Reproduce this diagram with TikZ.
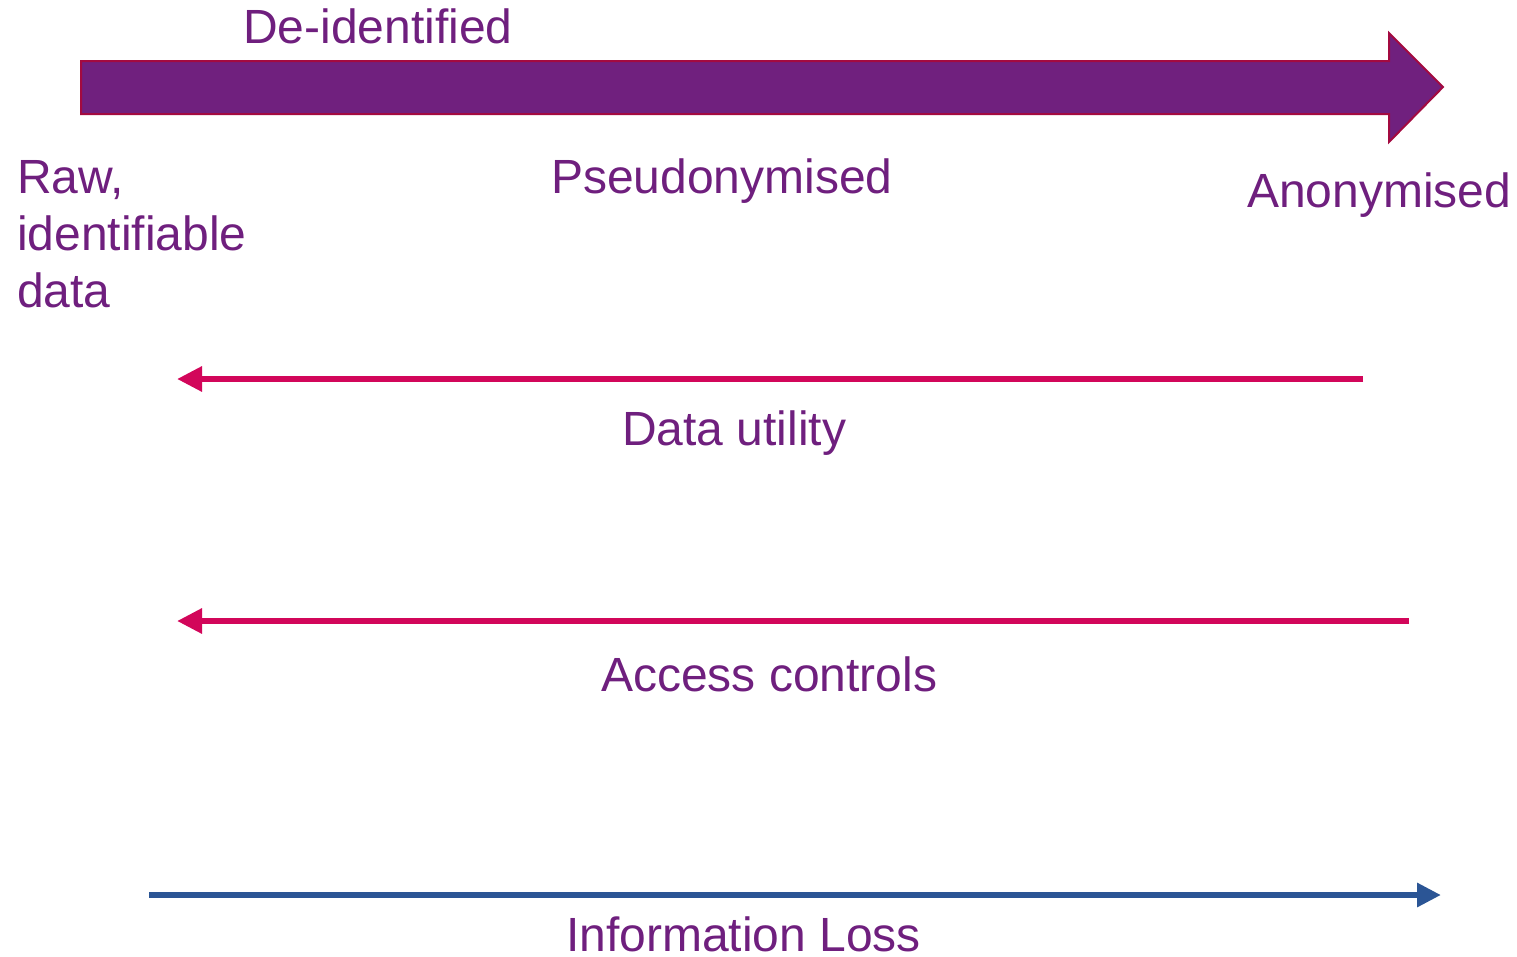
\documentclass[tikz,border=0pt]{standalone}
\usepackage{fontspec}
\setmainfont{Liberation Sans}
\usetikzlibrary{arrows.meta}
\definecolor{txtpurple}{HTML}{6F1F7E}
\definecolor{arrowfill}{HTML}{70207E}
\definecolor{arrowedge}{HTML}{A30A40}
\definecolor{pinkline}{HTML}{D2065A}
\definecolor{blueline}{HTML}{2B5595}
\tikzset{
  lbl/.style={anchor=base west, inner sep=0pt, text=txtpurple, font=\fontsize{48}{57}\selectfont},
  pinkarrow/.style={draw=pinkline, line width=6pt, -{Triangle[length=25pt,width=24pt]}},
  bluearrow/.style={draw=blueline, line width=6pt, -{Triangle[length=24pt,width=23pt]}},
}
\begin{document}
\begin{tikzpicture}[x=1pt,y=-1pt]
\useasboundingbox (0,0) rectangle (1517,956);
% big arrow
\draw[fill=arrowfill, draw=arrowedge, line width=2pt]
  (81,61) -- (1389,61) -- (1389,33) -- (1443,87) -- (1389,142) -- (1389,114) -- (81,114) -- cycle;
% labels
\node[lbl] (deid) at (243,43) {De-identified};
\node[lbl] (raw) at (17,193) {Raw,};
\node[lbl] (ident) at (17,250) {identifiable};
\node[lbl] (data) at (17,307) {data};
\node[lbl] (pseudo) at (551,193) {Pseudonymised};
\node[lbl] (anon) at (1247,207) {Anonymised};
\node[lbl] (util) at (622,445) {Data utility};
\node[lbl] (access) at (601,691) {Access controls};
\node[lbl, text depth=0pt] (loss) at (566,951) {Information Loss};
% connectors
\coordinate (u1) at (1363,379);
\coordinate (u2) at (177,379);
\coordinate (a1) at (1409,621);
\coordinate (a2) at (177,621);
\coordinate (l1) at (149,895);
\coordinate (l2) at (1441,895);
\draw[pinkarrow] (u1) -- (u2);
\draw[pinkarrow] (a1) -- (a2);
\draw[bluearrow] (l1) -- (l2);
\end{tikzpicture}
\end{document}
